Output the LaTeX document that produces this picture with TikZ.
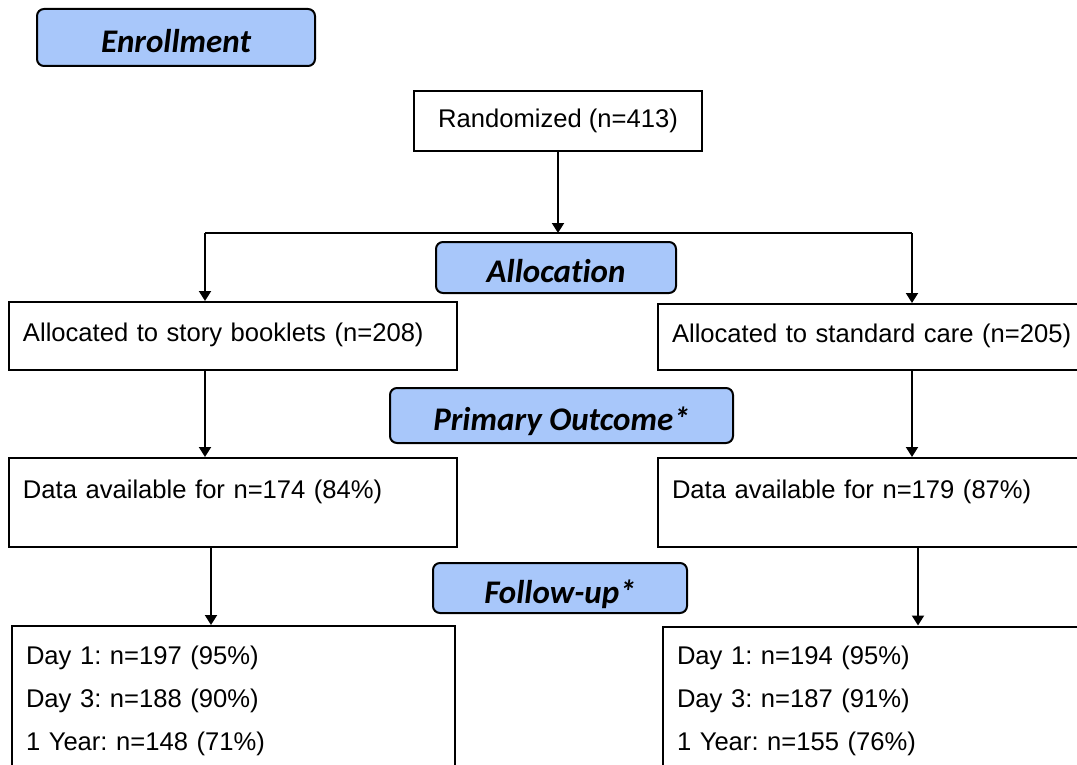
\documentclass[tikz,border=0pt]{standalone}
\usepackage{fontspec}
\setmainfont{Liberation Sans}
\newfontfamily\headfont[Ligatures=NoCommon]{Carlito}
\usetikzlibrary{arrows.meta}
\definecolor{stagefill}{RGB}{168,199,250}
\frenchspacing

\begin{document}
\begin{tikzpicture}[x=0.5pt, y=-0.5pt]
        \tikzset{stage/.style={draw, line width=1pt, rounded corners=3.5pt, fill=stagefill,
                     text height=15pt, text depth=0pt,
                     font=\fontsize{16.5}{20}\selectfont\headfont\bfseries\itshape},
                 plainbox/.style={draw, line width=1pt, font=\fontsize{12.8}{15}\selectfont},
                 databox/.style={draw, line width=1pt, inner xsep=7pt, inner ysep=0pt, align=left,
                     font=\fontsize{12.8}{21.5}\selectfont},
                 arrow/.style={line width=1pt, -{Triangle[length=5pt, width=6pt]}}}
        \useasboundingbox (0,0) rectangle (1077,765);
        \clip (0,0) rectangle (1077,765);
        % stage labels
        \node [stage, minimum width=139pt,   minimum height=28.5pt] (enroll)  at (176,37.5)  {Enrollment};
        \node [stage, minimum width=120pt,   minimum height=25.5pt] (alloc)   at (556,267.5) {Allocation};
        \node [stage, minimum width=171.5pt, minimum height=27.5pt] (primary) at (561.5,415.5) {Primary Outcome*};
        \node [stage, minimum width=127pt,   minimum height=25pt]   (follow)  at (560,588)   {Follow-up*};
        % boxes
        \node [plainbox, minimum width=144pt, minimum height=30pt] (rand) at (558,121) {Randomized (n=413)};
        \node [databox, text width=210pt, text height=19.5pt, text depth=14.5pt] (storyA) at (233,336)
            {Allocated to story booklets (n=208)};
        \node [databox, text width=207pt, text height=19pt,   text depth=14pt]   (careA)  at (879,337)
            {Allocated to standard care (n=205)};
        \node [databox, text width=210pt, text height=20pt,   text depth=24.5pt] (dataL)  at (233,502.5)
            {Data available for n=174 (84\%)};
        \node [databox, text width=207pt, text height=20pt,   text depth=24.5pt] (dataR)  at (879,502.5)
            {Data available for n=179 (87\%)};
        \node [databox, text width=207.5pt, text height=19pt, text depth=73pt]   (yearL)  at (233.5,718)
            {Day 1: n=197 (95\%)\\Day 3: n=188 (90\%)\\1 Year: n=148 (71\%)};
        \node [databox, text width=204.5pt, text height=19pt, text depth=73pt]   (yearR)  at (881.5,718.5)
            {Day 1: n=194 (95\%)\\Day 3: n=187 (91\%)\\1 Year: n=155 (76\%)};
        % connectors
        \coordinate (split)  at (558,233);
        \coordinate (splitL) at (205,233);
        \coordinate (splitR) at (912,233);
        \coordinate (lowL)   at (211,0);
        \coordinate (lowR)   at (918,0);
        \draw [arrow] (rand) -- (split);
        \draw [line width=1pt] (splitL) -- (splitR);
        \draw [arrow] (splitL) -- (splitL |- storyA.north);
        \draw [arrow] (splitR) -- (splitR |- careA.north);
        \draw [arrow] (storyA.south -| splitL) -- (dataL.north -| splitL);
        \draw [arrow] (careA.south -| splitR) -- (dataR.north -| splitR);
        \draw [arrow] (dataL.south -| lowL) -- (yearL.north -| lowL);
        \draw [arrow] (dataR.south -| lowR) -- (yearR.north -| lowR);
    \end{tikzpicture}
\end{document}
